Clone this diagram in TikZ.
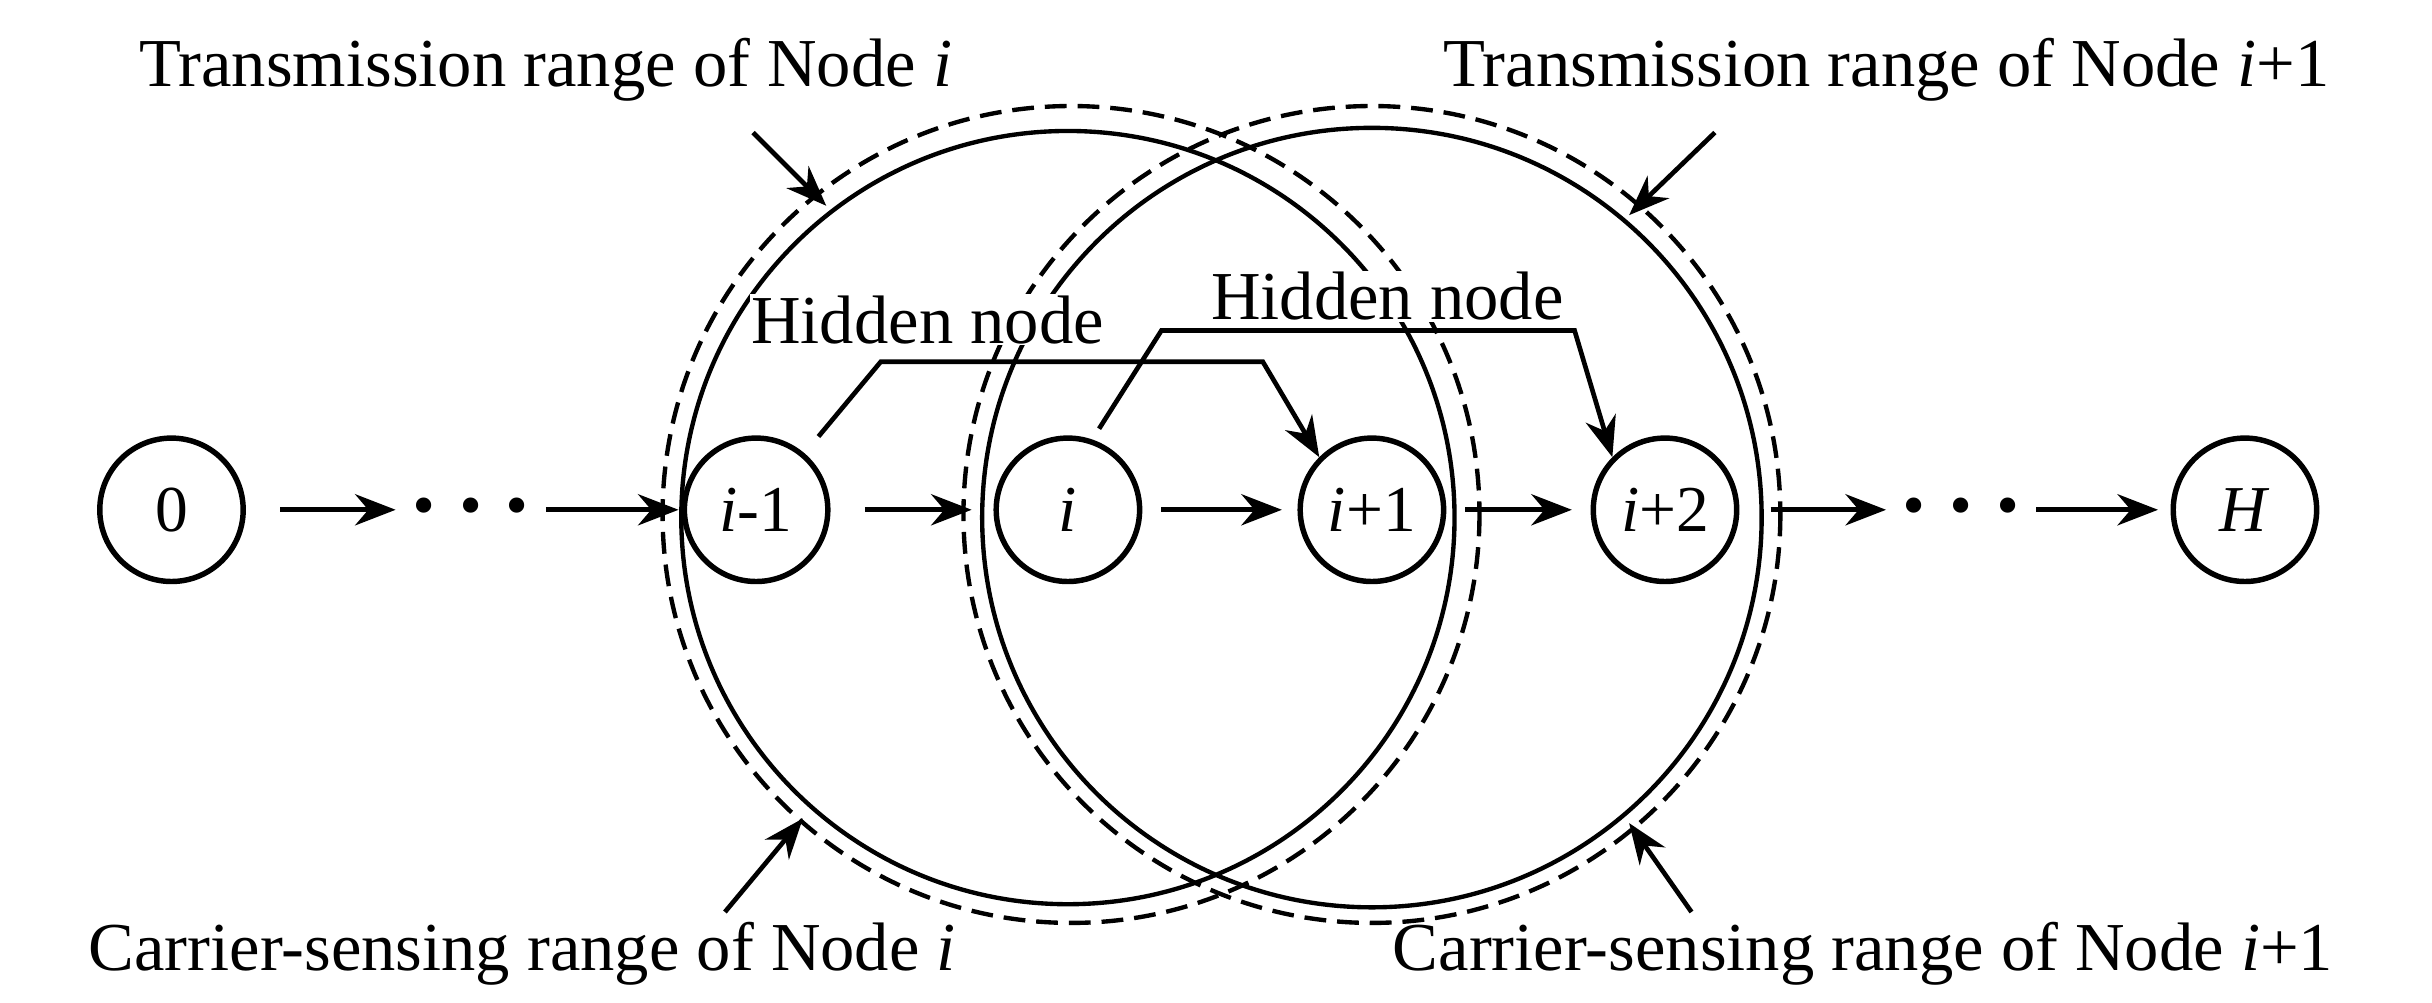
\documentclass[tikz,border=0pt]{standalone}
\usepackage{fontspec}
\setmainfont{Liberation Serif}
\usetikzlibrary{arrows.meta}
\newcommand{\vi}{\textit{i}}
\begin{document}
\begin{tikzpicture}[x=1pt,y=-1pt,
  nd/.style={circle,draw,line width=3.5pt,minimum size=92pt,inner sep=0pt,font=\fontsize{42}{48}\selectfont},
  arr/.style={line width=3pt,-{Stealth[length=26pt,width=20pt]}},
  lbl/.style={font=\fontsize{44}{50}\selectfont},
  big/.style={line width=2.8pt},
  dsh/.style={line width=2.8pt,dash pattern=on 14pt off 7pt},
  dots/.style={font=\fontsize{60}{60}\selectfont\bfseries,inner sep=0pt}]
\useasboundingbox (0,0) rectangle (1560,643);
\draw[big] (685,332) circle (248);
\draw[big] (880,332) circle (250);
\draw[dsh] (687,330) circle (262);
\draw[dsh] (880,330) circle (262);
\node[nd] (n0) at (110,327) {0};
\node[nd] (a) at (485,327) {\vi-1};
\node[nd] (b) at (685,327) {\vi};
\node[nd] (c) at (880,327) {\vi+1};
\node[nd] (d) at (1068,327) {\vi+2};
\node[nd] (h) at (1440,327) {\textit{H}};
\node[dots] (d1) at (302,332) {·\,·\,·};
\node[dots] (d2) at (1258,332) {·\,·\,·};
\draw[arr,shorten <=22pt,shorten >=8pt] (n0) -- (n0 -| d1.west);
\draw[arr,shorten <=8pt,shorten >=2pt] (a -| d1.east) -- (a);
\draw[arr,shorten <=22pt,shorten >=14pt] (a) -- (b);
\draw[arr,shorten <=12pt,shorten >=10pt] (b) -- (c);
\draw[arr,shorten <=12pt,shorten >=12pt] (c) -- (d);
\draw[arr,shorten <=20pt,shorten >=8pt] (d) -- (d -| d2.west);
\draw[arr,shorten <=8pt,shorten >=8pt] (h -| d2.east) -- (h);
\node[lbl,fill=white,inner sep=1pt] (hn1) at (595,205) {Hidden node};
\node[lbl,fill=white,inner sep=1pt] (hn2) at (890,190) {Hidden node};
\coordinate (p1) at (525,280);
\coordinate (p2) at (705,275);
\draw[arr] (p1) -- (565,232) -- (810,232) -- (c.north west);
\draw[arr] (p2) -- (745,212) -- (1010,212) -- (d.north west);
\node[lbl] (t1) at (350,45) {Transmission range of Node \vi};
\node[lbl] (t2) at (1210,45) {Transmission range of Node \vi+1};
\node[lbl] (c1) at (335,612) {Carrier-sensing range of Node \vi};
\node[lbl] (c2) at (1195,612) {Carrier-sensing range of Node \vi+1};
\coordinate (e1) at (530,132);
\coordinate (e2) at (1045,138);
\coordinate (e3) at (515,525);
\coordinate (e4) at (1045,528);
\draw[arr] (483,85) -- (e1);
\draw[arr] (1100,85) -- (e2);
\draw[arr] (465,585) -- (e3);
\draw[arr] (1085,585) -- (e4);
\end{tikzpicture}
\end{document}
